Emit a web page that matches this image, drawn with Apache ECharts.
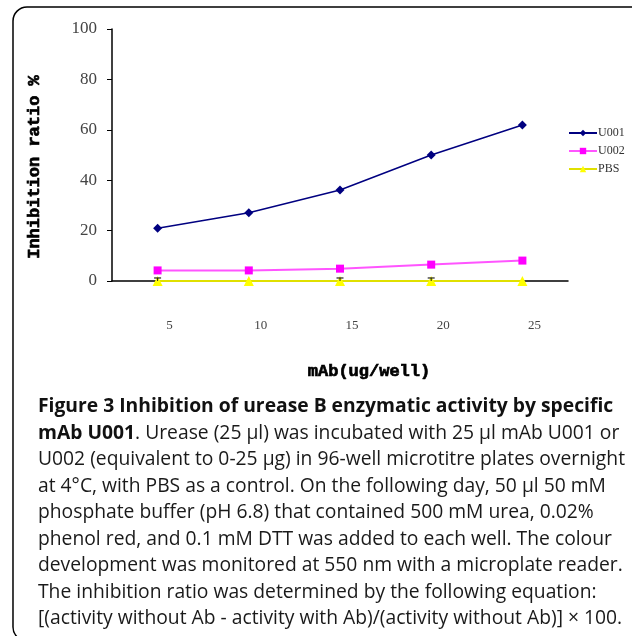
<!DOCTYPE html>
<html>
<head>
<meta charset="utf-8">
<script src="https://cdn.jsdelivr.net/npm/echarts@6/dist/echarts.min.js"></script>
<style>
html,body{margin:0;padding:0;background:#fff;}
#chart{width:632px;height:636px;}
</style>
</head>
<body>
<div id="chart"></div>
<script>
const categories = ['5', '10', '15', '20', '25'];
const u001 = [20.9, 27.1, 36.1, 50.0, 61.9];
const u002 = [4.2, 4.2, 4.9, 6.5, 8.1];
const pbs = [0, 0, 0, 0, 0];
const pbsErr = [1.2, 0, 1.2, 1.2, 0];
const yTicks = [0, 20, 40, 60, 80, 100];
const seriesNames = ['U001', 'U002', 'PBS'];
const captionLines = [
  '{b|Figure 3 Inhibition of urease B enzymatic activity by specific}',
  '{b|mAb U001}. Urease (25 µl) was incubated with 25 µl mAb U001 or',
  'U002 (equivalent to 0-25 µg) in 96-well microtitre plates overnight',
  'at 4°C, with PBS as a control. On the following day, 50 µl 50 mM',
  'phosphate buffer (pH 6.8) that contained 500 mM urea, 0.02%',
  'phenol red, and 0.1 mM DTT was added to each well. The colour',
  'development was monitored at 550 nm with a microplate reader.',
  'The inhibition ratio was determined by the following equation:',
  '[(activity without Ab - activity with Ab)/(activity without Ab)] × 100.'
];

const chart = echarts.init(document.getElementById('chart'), null, {renderer: 'canvas'});
const serifFont = '"Liberation Serif", "DejaVu Serif", serif';
const monoFont = '"Liberation Mono", "DejaVu Sans Mono", monospace';
const capFont = '"Open Sans", "Noto Sans", sans-serif';
const capSize = 19.3;

const captionGraphics = captionLines.map((t, i) => ({
  type: 'text',
  x: 38,
  y: 407 + i * 26.5,
  style: {
    text: t,
    fontFamily: capFont,
    fontSize: capSize,
    fill: '#1a1a1a',
    verticalAlign: 'middle',
    rich: { b: { fontWeight: 'bold', fontFamily: capFont, fontSize: capSize, fill: '#111' } }
  }
}));

const errData = categories.map((c, i) => [i, pbs[i], pbsErr[i]]).filter(d => d[2] > 0);

chart.setOption({
  animation: false,
  backgroundColor: '#fff',
  grid: { left: 112, top: 29, right: 64, bottom: 355, containLabel: false },
  legend: {
    orient: 'vertical',
    left: 563,
    top: 122,
    itemWidth: 28,
    itemHeight: 8,
    itemGap: 6,
    data: seriesNames,
    textStyle: { fontFamily: serifFont, fontSize: 12, color: '#333', padding: [0, 0, 0, -4] }
  },
  xAxis: {
    type: 'category',
    data: categories,
    boundaryGap: true,
    axisLine: { lineStyle: { color: '#000', width: 1.5 } },
    axisTick: { inside: true, length: 5, lineStyle: { color: '#000' } },
    axisLabel: { margin: 38, fontFamily: serifFont, fontSize: 13, color: '#444', padding: [0, 0, 0, 24] },
    splitLine: { show: false }
  },
  yAxis: {
    type: 'value',
    min: yTicks[0],
    max: yTicks[yTicks.length - 1],
    interval: 20,
    axisLine: { show: true, lineStyle: { color: '#000', width: 1.5 } },
    axisTick: { show: true, length: 5, lineStyle: { color: '#000' } },
    axisLabel: { margin: 15, fontFamily: serifFont, fontSize: 17, color: '#444' },
    splitLine: { show: false }
  },
  series: [
    {
      name: seriesNames[0], type: 'line', data: u001,
      symbol: 'diamond', symbolSize: 9,
      itemStyle: { color: '#000080' },
      lineStyle: { color: '#000080', width: 1.5 }
    },
    {
      name: seriesNames[1], type: 'line', data: u002,
      symbol: 'rect', symbolSize: 8,
      itemStyle: { color: '#FF00FF' },
      lineStyle: { color: '#FF55FF', width: 2 }
    },
    {
      name: seriesNames[2], type: 'line', data: pbs,
      symbol: 'triangle', symbolSize: 10,
      itemStyle: { color: '#FFFF00' },
      lineStyle: { color: '#E0E000', width: 2 },
      z: 3
    },
    {
      type: 'custom',
      data: errData,
      silent: true,
      z: 4,
      renderItem: function (params, api) {
        const x = api.value(0);
        const v = api.value(1);
        const e = api.value(2);
        const top = api.coord([x, v + e]);
        const bot = api.coord([x, v]);
        const hw = 3.5;
        return {
          type: 'group',
          children: [
            { type: 'line', shape: { x1: top[0] - hw, y1: top[1], x2: top[0] + hw, y2: top[1] }, style: { stroke: '#222', lineWidth: 1.2 } },
            { type: 'line', shape: { x1: top[0], y1: top[1], x2: bot[0], y2: bot[1] }, style: { stroke: '#222', lineWidth: 1 } }
          ]
        };
      }
    }
  ],
  graphic: [
    {
      type: 'rect',
      shape: { x: 13, y: 7, width: 700, height: 634, r: 14 },
      style: { fill: 'none', stroke: '#000', lineWidth: 1.5 },
      silent: true
    },
    {
      type: 'text',
      x: 35, y: 167, rotation: Math.PI / 2,
      style: {
        text: 'Inhibition ratio %',
        fontFamily: monoFont, fontWeight: 'bold', fontSize: 17, fill: '#000',
        stroke: '#000', lineWidth: 0.7,
        align: 'center', verticalAlign: 'middle'
      }
    },
    {
      type: 'text',
      x: 369, y: 372,
      style: {
        text: 'mAb(ug/well)',
        fontFamily: monoFont, fontWeight: 'bold', fontSize: 17, fill: '#000',
        stroke: '#000', lineWidth: 0.7,
        align: 'center', verticalAlign: 'middle'
      }
    }
  ].concat(captionGraphics)
});
</script>
</body>
</html>
